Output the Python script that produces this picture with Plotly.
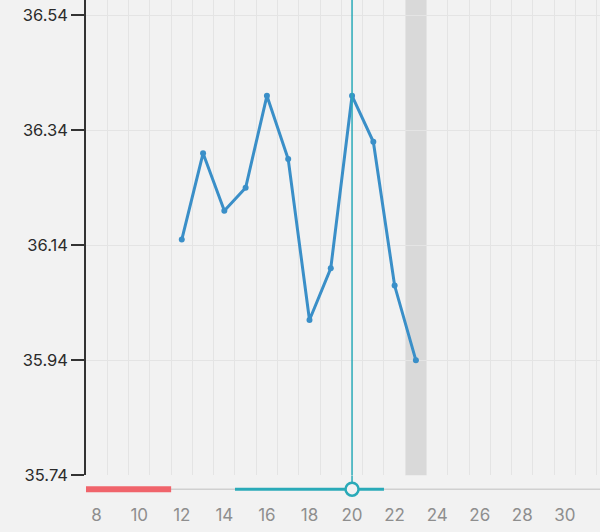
import plotly.graph_objects as go

days = [12, 13, 14, 15, 16, 17, 18, 19, 20, 21, 22, 23]
temps = [36.15, 36.30, 36.20, 36.24, 36.40, 36.29, 36.01, 36.10, 36.40, 36.32, 36.07, 35.94]
y_ticks = [35.74, 35.94, 36.14, 36.34, 36.54]
x_ticks = [8, 10, 12, 14, 16, 18, 20, 22, 24, 26, 28, 30]
period_days = [8, 11]
fertile_days = [15, 21]
ovulation_day = 20
today_day = 23

X_MIN, X_MAX = 7.5, 31.65
Y_MIN, Y_MAX = 35.74, 36.5666
BG = "#f2f2f2"
TEAL = "#2aaab8"
FONT = "Inter, Roboto, sans-serif"

H = 532
B = 29
plot_h = H - B
split = (plot_h - 475.3) / plot_h

fig = go.Figure()

# main temperature line
fig.add_trace(go.Scatter(
    x=days, y=temps, mode="lines+markers",
    line=dict(color="#3a8fc8", width=3),
    marker=dict(color="#3a8fc8", size=6),
    xaxis="x", yaxis="y", hoverinfo="skip", showlegend=False,
))
# ovulation vertical line in main plot
fig.add_trace(go.Scatter(
    x=[ovulation_day, ovulation_day], y=[Y_MIN, Y_MAX], mode="lines",
    line=dict(color=TEAL, width=1.5), xaxis="x", yaxis="y",
    hoverinfo="skip", showlegend=False,
))

# slider subplot
fig.add_trace(go.Scatter(
    x=[X_MIN, X_MAX], y=[0, 0], mode="lines",
    line=dict(color="#d0d0d0", width=1.5), xaxis="x2", yaxis="y2",
    hoverinfo="skip", showlegend=False,
))
fig.add_trace(go.Scatter(
    x=[period_days[0] - 0.5, period_days[1] + 0.5], y=[0, 0], mode="lines",
    line=dict(color="#f0646b", width=6), xaxis="x2", yaxis="y2",
    hoverinfo="skip", showlegend=False,
))
fig.add_trace(go.Scatter(
    x=[fertile_days[0] - 0.5, fertile_days[1] + 0.5], y=[0, 0], mode="lines",
    line=dict(color=TEAL, width=3), xaxis="x2", yaxis="y2",
    hoverinfo="skip", showlegend=False,
))
fig.add_trace(go.Scatter(
    x=[ovulation_day, ovulation_day], y=[0, 1], mode="lines",
    line=dict(color=TEAL, width=1.5), xaxis="x2", yaxis="y2",
    hoverinfo="skip", showlegend=False,
))
fig.add_trace(go.Scatter(
    x=[ovulation_day], y=[0], mode="markers",
    marker=dict(symbol="circle", size=13, color=BG, line=dict(color=TEAL, width=2.5)),
    xaxis="x2", yaxis="y2", hoverinfo="skip", showlegend=False,
))

fig.add_shape(
    type="rect", xref="x", yref="y domain", x0=today_day - 0.5, x1=today_day + 0.5,
    y0=0, y1=1, fillcolor="#d9d9d9", line=dict(width=0), layer="below",
)

fig.update_layout(
    width=600, height=H,
    margin=dict(l=86, r=0, t=0, b=B),
    paper_bgcolor=BG, plot_bgcolor="rgba(0,0,0,0)",
    font=dict(family=FONT),
    showlegend=False,
    xaxis=dict(
        range=[X_MIN, X_MAX], domain=[0, 1], anchor="y",
        tick0=7.5, dtick=1, showticklabels=False, ticks="",
        showgrid=True, gridcolor="#e4e4e4", gridwidth=1,
        zeroline=False, showline=False, fixedrange=True, automargin=False,
    ),
    yaxis=dict(
        range=[Y_MIN, Y_MAX], domain=[split, 1], anchor="x",
        tickvals=y_ticks, ticktext=[f"{v:.2f}" for v in y_ticks],
        ticks="outside", ticklen=13, tickwidth=1.5, tickcolor="#333333",
        tickfont=dict(size=16.5, color="#2b2b2b"),
        showgrid=True, gridcolor="#e4e4e4", gridwidth=1,
        showline=True, linecolor="#333333", linewidth=1.5,
        zeroline=False, fixedrange=True, automargin=False,
    ),
    xaxis2=dict(
        range=[X_MIN, X_MAX], domain=[0, 1], anchor="y2",
        tickvals=x_ticks, ticktext=[str(v) for v in x_ticks],
        tickfont=dict(size=17, color="#8e8e8e"), ticks="",
        showgrid=False, zeroline=False, showline=False, fixedrange=True,
        automargin=False,
    ),
    yaxis2=dict(
        range=[-1, 1], domain=[0, split], anchor="x2",
        showticklabels=False, showgrid=False, zeroline=False,
        showline=False, ticks="", fixedrange=True, automargin=False,
    ),
)

fig.write_html(
    "out.html",
    config={"displayModeBar": False},
    post_script="document.body.style.margin='0';document.body.style.background='#f2f2f2';",
)
